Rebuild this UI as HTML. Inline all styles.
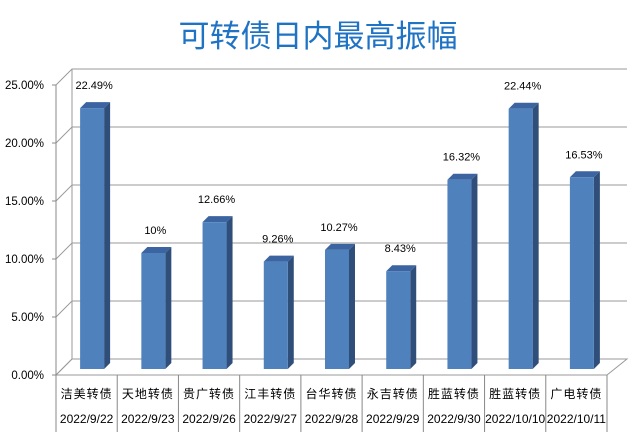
<!DOCTYPE html>
<html><head><meta charset="utf-8"><style>
body{margin:0;background:#fff;}
svg{display:block;font-family:"Liberation Sans","Noto Sans CJK SC",sans-serif;}
</style></head><body>
<svg id="chart" width="636" height="434">
<text x="318" y="47" text-anchor="middle" font-size="31" fill="#1F73C4" font-family="'Noto Sans CJK SC',sans-serif">可转债日内最高振幅</text>
<g id="grid"></g><g id="bars"></g><g id="axis"></g>
</svg>
<script>
const categories=["洁美转债","天地转债","贵广转债","江丰转债","台华转债","永吉转债","胜蓝转债","胜蓝转债","广电转债"];
const dates=["2022/9/22","2022/9/23","2022/9/26","2022/9/27","2022/9/28","2022/9/29","2022/9/30","2022/10/10","2022/10/11"];
const values=[22.49,10,12.66,9.26,10.27,8.43,16.32,22.44,16.53];
const valueLabels=["22.49%","10%","12.66%","9.26%","10.27%","8.43%","16.32%","22.44%","16.53%"];
const ticks=[0,5,10,15,20,25];
const NS="http://www.w3.org/2000/svg";
const X0=56,X1=607,Y0=375,K=11.6,DX=16,DY=-16;
const n=categories.length,cw=(X1-X0)/n;
function yF(v){return Y0-v*K;}
function mk(p,t,a){const e=document.createElementNS(NS,t);for(const k in a)e.setAttribute(k,a[k]);p.appendChild(e);return e;}
const grid=document.getElementById('grid'),bars=document.getElementById('bars'),axis=document.getElementById('axis');
const fl=mk(grid,'polygon',{points:`${X0},${Y0} ${X1},${Y0} ${X1+DX+4},${Y0+DY} ${X0+DX},${Y0+DY}`,fill:'#fff',stroke:'#9a9a9a'});


mk(grid,'line',{x1:X0+DX,y1:yF(25)+DY,x2:X0+DX,y2:Y0+DY,stroke:'#9a9a9a'});
ticks.forEach((t,i)=>{
 const y=yF(t);
 const g=mk(grid,'polyline',{points:`${X0},${y} ${X0+DX},${y+DY} ${X1+DX+4},${y+DY}`,fill:'none',stroke:'#9a9a9a'});
 
 
 mk(axis,'line',{x1:X0-4,y1:y,x2:X0,y2:y,stroke:'#888'});
 const tx=mk(axis,'text',{x:X0-12,y:y+4,'text-anchor':'end','font-size':'11.5',fill:'#000'});
 tx.textContent=t.toFixed(2)+'%';
 
 
});
mk(axis,'line',{x1:X0,y1:yF(25),x2:X0,y2:432,stroke:'#888'});
const BZ=369;
values.forEach((v,i)=>{
 const cx=X0+cw*(i+0.5)+5.5,bw=24,d=6;
 const x=cx-bw/2,top=BZ-v*K;
 const g=mk(bars,'g',{});
 
 
 mk(g,'polygon',{points:`${x+bw},${top} ${x+bw+d},${top-d} ${x+bw+d},${BZ-d} ${x+bw},${BZ}`,fill:'#2F4F7A'});
 mk(g,'polygon',{points:`${x},${top} ${x+d},${top-d} ${x+bw+d},${top-d} ${x+bw},${top}`,fill:'#3B64A0'});
 mk(g,'rect',{x:x,y:top,width:bw,height:BZ-top,fill:'#4F81BD'});
 const t=mk(g,'text',{x:cx+2,y:top-19,'text-anchor':'middle','font-size':'11',fill:'#000'});
 t.textContent=valueLabels[i];
 
 
 const lx=X0+cw*(i+1);
 mk(axis,'line',{x1:lx,y1:Y0,x2:lx,y2:432,stroke:'#888'});
 const c=mk(axis,'text',{x:X0+cw*(i+0.5),y:398,'text-anchor':'middle','font-size':'12',fill:'#000','letter-spacing':'1'});
 c.textContent=categories[i];
 
 
 const dt=mk(axis,'text',{x:X0+cw*(i+0.5),y:423,'text-anchor':'middle','font-size':'12',fill:'#000'});
 dt.textContent=dates[i];
 
 
});
</script>
</body></html>
